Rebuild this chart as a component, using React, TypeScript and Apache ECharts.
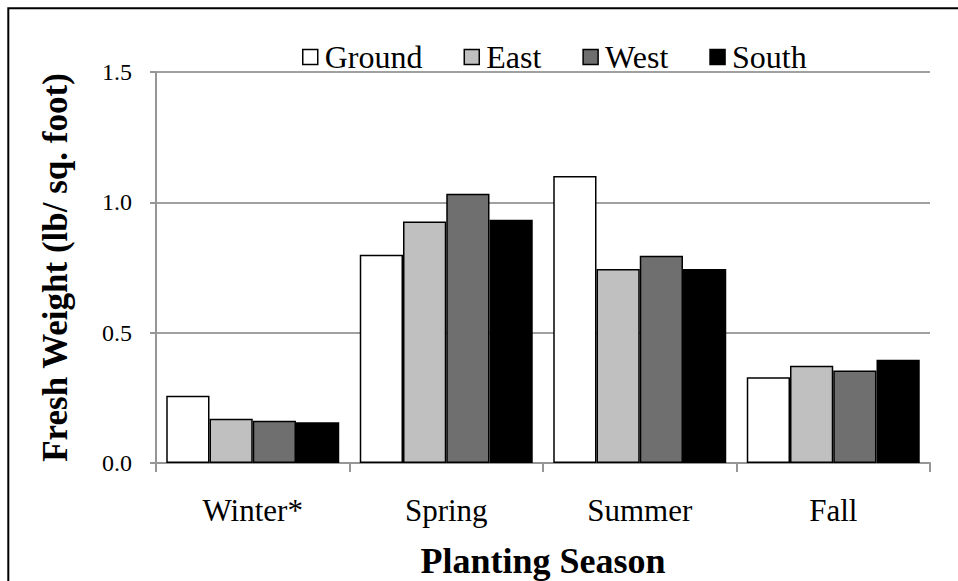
import React, { useEffect, useRef } from "react";
import * as echarts from "echarts";

const categories = ["Winter*", "Spring", "Summer", "Fall"];
const seriesNames = ["Ground", "East", "West", "South"];
const groundValues = [0.258, 0.799, 1.101, 0.329];
const eastValues = [0.17, 0.926, 0.744, 0.373];
const westValues = [0.162, 1.033, 0.795, 0.355];
const southValues = [0.156, 0.933, 0.744, 0.396];
const yTicks = [0, 0.5, 1.0, 1.5];

const colors = ["#ffffff", "#c0c0c0", "#6f6f6f", "#000000"];
const FONT = "Liberation Serif";

export default function App() {
  const ref = useRef<HTMLDivElement>(null);
  useEffect(() => {
    if (!ref.current) return;
    const chart = echarts.init(ref.current, undefined, { renderer: "svg" });
    const values = [groundValues, eastValues, westValues, southValues];
    chart.setOption({
      animation: false,
      backgroundColor: "#ffffff",
      textStyle: { fontFamily: FONT },
      graphic: [
        {
          type: "polyline",
          shape: { points: [[8.3, 600], [8.3, 8.3], [1000, 8.3]] },
          style: { fill: "none", stroke: "#000", lineWidth: 2 },
          silent: true,
          z: 100,
        },
      ],
      legend: {
        data: seriesNames,
        left: 302,
        top: 41,
        padding: 0,
        icon: "rect",
        itemWidth: 15,
        itemHeight: 15,
        itemGap: 41,
        itemStyle: { borderColor: "#000", borderWidth: 1.5 },
        textStyle: { fontFamily: FONT, fontSize: 32, color: "#000", padding: [0, 0, 0, 2] },
      },
      grid: { left: 156, right: 28, top: 72, bottom: 118, outerBoundsMode: "none", containLabel: false },
      xAxis: {
        type: "category",
        data: categories,
        name: "Planting Season",
        nameLocation: "middle",
        nameGap: 80,
        nameTextStyle: { fontFamily: FONT, fontSize: 36, fontWeight: "bold", color: "#000" },
        axisLine: { lineStyle: { color: "#969696", width: 2 } },
        axisTick: { show: true, length: 9, lineStyle: { color: "#969696", width: 2 } },
        axisLabel: { fontFamily: FONT, fontSize: 31, color: "#000", margin: 32 },
      },
      yAxis: {
        type: "value",
        min: yTicks[0],
        max: yTicks[yTicks.length - 1],
        interval: 0.5,
        name: "Fresh Weight (lb/ sq. foot)",
        nameLocation: "middle",
        nameGap: 83,
        nameTextStyle: { fontFamily: FONT, fontSize: 35, fontWeight: "bold", color: "#000" },
        axisLine: { show: true, lineStyle: { color: "#969696", width: 2 } },
        axisTick: { show: true, length: 6, lineStyle: { color: "#969696", width: 2 } },
        axisLabel: {
          fontFamily: FONT,
          fontSize: 24,
          color: "#000",
          margin: 24,
          formatter: (v: number) => v.toFixed(1),
        },
        splitLine: { show: true, lineStyle: { color: "#a0a0a0", width: 2 } },
      },
      series: seriesNames.map((name, i) => ({
        name,
        type: "bar",
        data: values[i],
        barGap: "0%",
        barCategoryGap: "10.6%",
        itemStyle: { color: colors[i], borderColor: "#000", borderWidth: 1.5 },
      })),
    });
    return () => chart.dispose();
  }, []);
  return (
    <div
      ref={ref}
      style={{ position: "fixed", left: 0, top: 0, width: 958, height: 581 }}
    />
  );
}
